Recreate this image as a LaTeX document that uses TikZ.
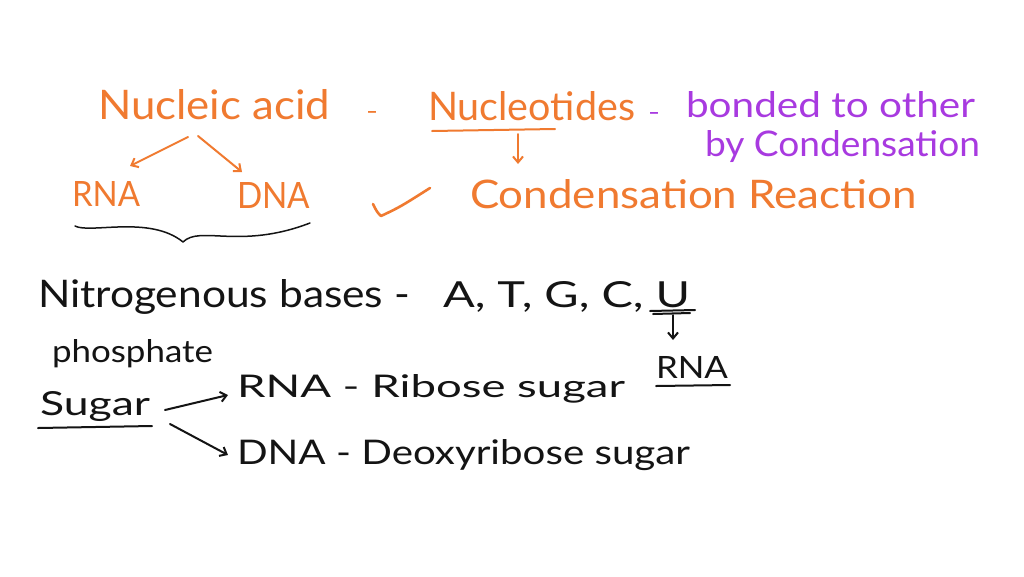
\documentclass[tikz,border=0pt]{standalone}
\usepackage{fontspec}
\setmainfont{Lato}
\usetikzlibrary{arrows.meta}
\definecolor{ink}{RGB}{20,20,20}
\definecolor{org}{RGB}{240,122,48}
\definecolor{pur}{RGB}{168,58,224}
\newcommand{\hw}[3]{\resizebox{#1pt}{#2pt}{\fontsize{30}{36}\selectfont #3}}
\begin{document}
\begin{tikzpicture}[x=1pt,y=-1pt,
  txt/.style={anchor=base west,inner sep=0pt,outer sep=0pt},
  pen/.style={line width=2pt,line cap=round,line join=round},
  arr/.style={pen,-{Straight Barb[length=6pt,width=10pt]}}]
\useasboundingbox[fill=white] (0,0) rectangle (1024,576);
% top section
\node[txt,text=org] (nucleic) at (98,119) {\hw{232}{30}{Nucleic acid}};
\node[txt,text=org] (dash1) at (366,119) {\hw{12}{8}{-}};
\node[txt,text=org] (nucleotides) at (428,120) {\hw{207}{29}{Nucleotides}};
\node[txt,text=pur] (dash2) at (648,120) {\hw{12}{8}{-}};
\node[txt,text=pur] (bonded) at (686,117) {\hw{289}{26}{bonded to other}};
\node[txt,text=pur] (bycond) at (705,156) {\hw{275}{26}{by Condensation}};
\node[txt,text=org] (condreac) at (470,208) {\hw{447}{29}{Condensation Reaction}};
\node[txt,text=org] (rna1) at (72,206) {\hw{68}{25}{RNA}};
\node[txt,text=org] (dna1) at (237,208) {\hw{73}{26}{DNA}};
\coordinate (nl) at (188,137);
\coordinate (nr) at (198,136);
\coordinate (rl) at (130,166);
\coordinate (dr) at (242,172);
\draw[arr,org] (nl) -- (rl);
\draw[arr,org] (nr) -- (dr);
\coordinate (ul1) at (432,131);
\coordinate (ul2) at (555,129);
\draw[pen,org] (ul1) -- (ul2);
\coordinate (ua) at (518,134);
\coordinate (ub) at (518,164);
\draw[arr,org] (ua) -- (ub);
% check mark
\coordinate (c1) at (373,204);
\coordinate (c2) at (381,216);
\coordinate (c3) at (430,188);
\draw[pen,org,line width=2.6pt] (c1) .. controls (377,212) .. (c2) .. controls (400,207) .. (c3);
% brace
\coordinate (b1) at (75,226);
\coordinate (bm) at (183,242);
\coordinate (b2) at (310,223);
\draw[pen,ink,line width=1.5pt] (b1) .. controls (90,234) and (150,215) .. (bm) .. controls (200,225) and (240,250) .. (b2);
% bottom section
\node[txt,text=ink] (nitro) at (38,307) {\hw{372}{28}{Nitrogenous bases -}};
\node[txt,text=ink] (bases) at (443,307) {\hw{247}{26}{A, T, G, C, U}};
\coordinate (u1) at (650,311);
\coordinate (u2) at (695,310);
\coordinate (u3) at (653,314);
\coordinate (u4) at (690,313);
\draw[pen,ink] (u1) -- (u2);
\draw[pen,ink] (u3) -- (u4);
\coordinate (ua2) at (673,315);
\coordinate (ub2) at (673,340);
\draw[arr,ink] (ua2) -- (ub2);
\node[txt,text=ink] (rna2) at (656,378) {\hw{72}{22}{RNA}};
\coordinate (r1) at (656,386);
\coordinate (r2) at (730,385);
\draw[pen,ink] (r1) -- (r2);
\node[txt,text=ink] (phos) at (52,362) {\hw{161}{23}{phosphate}};
\node[txt,text=ink] (sugar) at (40,415) {\hw{110}{24}{Sugar}};
\coordinate (s1) at (38,428);
\coordinate (s2) at (152,426);
\draw[pen,ink] (s1) -- (s2);
\node[txt,text=ink] (ribose) at (237,397) {\hw{388}{23}{RNA - Ribose sugar}};
\node[txt,text=ink] (deoxy) at (237,464) {\hw{453}{25}{DNA - Deoxyribose sugar}};
\coordinate (sa) at (165,410);
\coordinate (sb) at (228,395);
\coordinate (sc) at (170,424);
\coordinate (sd) at (228,455);
\draw[arr,ink] (sa) -- (sb);
\draw[arr,ink] (sc) -- (sd);
\end{tikzpicture}
\end{document}
